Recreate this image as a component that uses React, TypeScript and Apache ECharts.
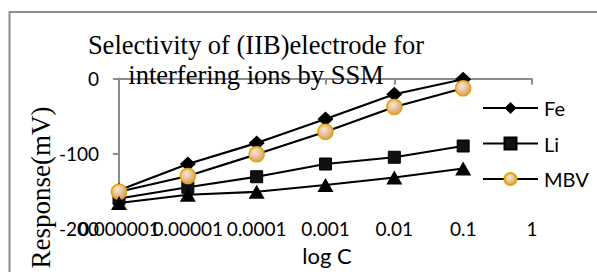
import React, { useEffect, useRef } from "react";
import * as echarts from "echarts";

const xValues = [0.000001, 0.00001, 0.0001, 0.001, 0.01, 0.1];
const xTickLabels = ["0.000001", "0.00001", "0.0001", "0.001", "0.01", "0.1", "1"];
const yTickValues = [0, -100, -200];
const feValues = [-149, -114, -86, -54, -21, -1];
const liValues = [-160, -145, -131, -114, -105, -90];
const mbvValues = [-151, -130, -101, -71, -38, -13];
const s4Values = [-166, -155, -151, -142, -132, -120];
const legendNames = ["Fe", "Li", "MBV"];
const titleText = "Selectivity of (IIB)electrode for\ninterfering ions by SSM";
const yTitle = "Response(mV)";
const xTitle = "log C";

const AXIS = "#8c8c8c";

function pairs(vals: number[]) {
  return xValues.map((x, i) => [x, vals[i]]);
}

export default function App() {
  const ref = useRef<HTMLDivElement>(null);
  useEffect(() => {
    if (!ref.current) return;
    const chart = echarts.init(ref.current, null, { renderer: "svg" });
    const tickIdx = (v: number) => Math.round(Math.log10(v)) + 6;
    const lineStyle = { color: "#000", width: 2.25 };
    const labelBase = {
      show: true, margin: 13, color: "#000", fontFamily: "Lato", fontSize: 19,
      hideOverlap: false, showMinLabel: true, showMaxLabel: true,
    };
    const option: any = {
      animation: false,
      backgroundColor: "#fff",
      grid: [
        { left: 119, right: 65, top: 78.5, bottom: 43.5 },
        { left: 119, right: 65, top: 78.5, bottom: 66 },
      ],
      xAxis: [
        {
          type: "log", logBase: 10, min: 0.000001, max: 1, gridIndex: 0,
          axisLine: { show: false }, axisTick: { show: false },
          axisLabel: { show: false }, splitLine: { show: false },
        },
        {
          type: "log", logBase: 10, min: 0.000001, max: 1, gridIndex: 1, position: "bottom", offset: 0,
          axisLine: { show: true, lineStyle: { color: AXIS, width: 2 } },
          axisTick: { show: true, inside: false, length: 6, lineStyle: { color: AXIS, width: 2 } },
          splitLine: { show: false },
          minorTick: { show: false },
          axisLabel: {
            ...labelBase,
            formatter: (v: number) => (tickIdx(v) % 2 === 0 ? xTickLabels[tickIdx(v)] ?? "" : ""),
          },
        },
        {
          type: "log", logBase: 10, min: 0.000001, max: 1, gridIndex: 1, position: "bottom", offset: 0,
          axisLine: { show: false }, axisTick: { show: false },
          splitLine: { show: false }, minorTick: { show: false },
          axisLabel: {
            ...labelBase,
            formatter: (v: number) => (tickIdx(v) % 2 === 1 ? xTickLabels[tickIdx(v)] ?? "" : ""),
          },
        },
      ],
      yAxis: [
        {
          type: "value", min: -200, max: 0, interval: 100, gridIndex: 0,
          axisLine: { show: false },
          axisTick: { show: true, length: 6, customValues: [0, -100], lineStyle: { color: AXIS, width: 2 } },
          splitLine: { show: false },
          axisLabel: {
            show: true, margin: 20, color: "#000", fontFamily: "Lato", fontSize: 19,
            customValues: yTickValues,
          },
        },
        {
          type: "value", min: -172, max: 0, gridIndex: 1,
          axisLine: { show: true, onZero: false, lineStyle: { color: AXIS, width: 2 } },
          axisTick: { show: false }, axisLabel: { show: false }, splitLine: { show: false },
        },
      ],
      legend: {
        data: legendNames,
        orient: "vertical",
        left: 477,
        top: 93,
        itemWidth: 55,
        itemHeight: 15,
        itemGap: 15.5,
        textStyle: { fontFamily: "Lato", fontSize: 20, color: "#000", padding: [0, 0, 0, 1] },
      },
      graphic: [
        {
          type: "text", x: 256, y: 59.5, z: 100,
          style: {
            text: titleText, x: 0, y: 0, align: "center", verticalAlign: "middle",
            font: "26.5px 'Liberation Serif'", lineHeight: 30, fill: "#000",
          },
        },
        {
          type: "text", x: 41, y: 187.5, rotation: Math.PI / 2,
          style: {
            text: yTitle, x: 0, y: 0, align: "center", verticalAlign: "middle",
            font: "27px 'Liberation Serif'", fill: "#000",
          },
        },
        {
          type: "text", x: 327, y: 255,
          style: {
            text: xTitle, x: 0, y: 0, align: "center", verticalAlign: "middle",
            font: "22px Lato", fill: "#000",
          },
        },
        {
          type: "rect", shape: { x: 9.5, y: 12, width: 620, height: 300 },
          style: { fill: "none", stroke: AXIS, lineWidth: 2 }, silent: true,
        },
      ],
      series: [
        {
          name: "Fe", type: "line", xAxisIndex: 0, yAxisIndex: 0, data: pairs(feValues),
          symbol: "diamond", symbolSize: [16, 15], lineStyle,
          itemStyle: { color: "#000" },
        },
        {
          name: "Li", type: "line", xAxisIndex: 0, yAxisIndex: 0, data: pairs(liValues),
          symbol: "rect", symbolSize: 12, lineStyle,
          itemStyle: { color: "#111", borderColor: "#000", borderWidth: 1 },
        },
        {
          name: "MBV", type: "line", xAxisIndex: 0, yAxisIndex: 0, data: pairs(mbvValues),
          symbol: "circle", symbolSize: 15, lineStyle,
          itemStyle: {
            color: new echarts.graphic.RadialGradient(0.4, 0.35, 0.7, [
              { offset: 0, color: "#fbe6cf" },
              { offset: 1, color: "#d69a64" },
            ]),
            borderColor: "#e0a800", borderWidth: 1.5,
          },
        },
        {
          name: "Series4", type: "line", xAxisIndex: 0, yAxisIndex: 0, data: pairs(s4Values),
          symbol: "triangle", symbolSize: [16, 14], lineStyle,
          itemStyle: { color: "#000" },
        },
      ],
    };
    chart.setOption(option);
    return () => chart.dispose();
  }, []);
  return (
    <div
      ref={ref}
      style={{ position: "absolute", left: 0, top: 0, width: 597, height: 272, background: "#fff" }}
    />
  );
}
